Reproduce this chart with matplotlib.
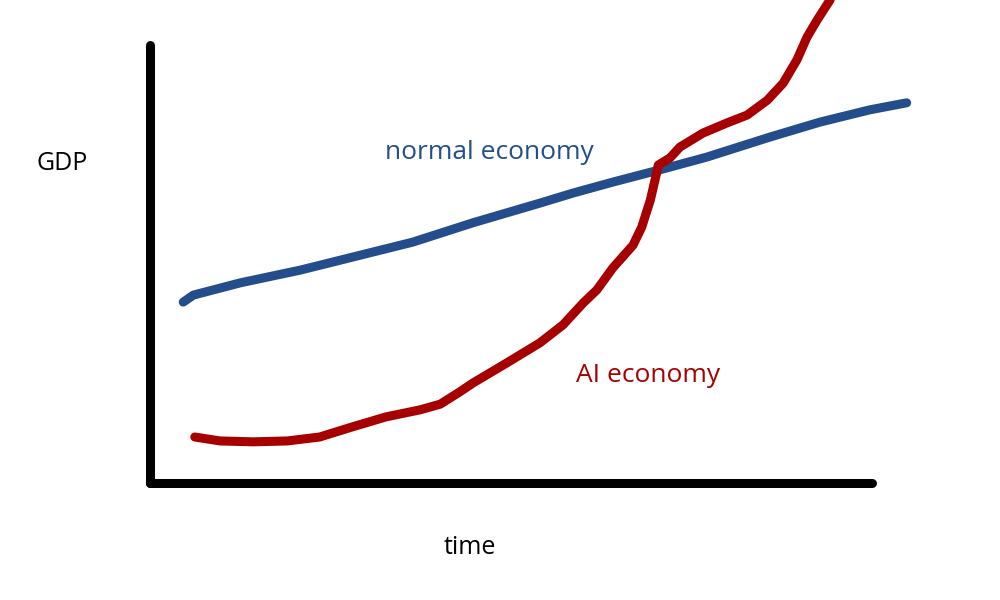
import matplotlib.pyplot as plt

# hand drawn sketch (time 0-100, GDP 0-100)
normal_time = [4.6, 6.0, 12.5, 20.8, 36.4, 44.7, 54.0, 58.6, 64.1, 70.6, 77.1, 85.9, 92.8, 99.7, 104.8]
normal_gdp = [41.3, 42.9, 45.7, 48.6, 55.0, 59.4, 63.9, 66.2, 68.7, 71.5, 74.4, 79.0, 82.4, 85.2, 86.8]

ai_time = [6.2, 9.7, 14.3, 19.0, 23.5, 28.0, 32.7, 37.4, 40.2, 42.9, 44.7, 49.4, 54.0, 57.2,
           60.0, 61.9, 64.1, 66.9, 68.1, 69.3, 70.2, 70.4, 72.0, 73.4, 76.6, 79.9, 82.7,
           85.5, 87.7, 89.6, 91.0, 92.4, 94.2]
ai_gdp = [10.5, 9.6, 9.4, 9.6, 10.5, 12.8, 15.1, 16.7, 18.0, 20.8, 22.8, 27.4, 32.0, 36.1,
          41.1, 44.1, 49.1, 54.3, 58.4, 64.6, 71.0, 72.6, 74.2, 76.7, 79.9, 82.2, 84.0,
          87.4, 91.3, 96.6, 101.8, 105.7, 110.3]

blue = '#234e8b'
red = '#a60000'

plt.rcParams['font.family'] = ['Open Sans', 'DejaVu Sans']

fig = plt.figure(figsize=(10, 6), dpi=100)
ax = fig.add_axes([0.15, 1 - 483 / 600, 0.722, 438 / 600])

ax.plot(normal_time, normal_gdp, color=blue, lw=6.5, solid_capstyle='round',
        solid_joinstyle='round', clip_on=False)
ax.plot(ai_time, ai_gdp, color=red, lw=6.5, solid_capstyle='round',
        solid_joinstyle='round', clip_on=False)

ax.set_xlim(0, 100)
ax.set_ylim(0, 100)
for side in ['top', 'right']:
    ax.spines[side].set_visible(False)
for side in ['left', 'bottom']:
    ax.spines[side].set_linewidth(6.5)
    ax.spines[side].set_color('black')
    ax.spines[side].set_capstyle('round')
ax.set_xticks([])
ax.set_yticks([])

fig.text(0.062, 1 - 163 / 600, 'GDP', fontsize=18, ha='center', va='center')
fig.text(0.470, 1 - 548 / 600, 'time', fontsize=18, ha='center', va='center')
fig.text(0.489, 1 - 152 / 600, 'normal economy', fontsize=19, color=blue, ha='center', va='center')
fig.text(0.648, 1 - 376 / 600, 'AI economy', fontsize=19, color=red, ha='center', va='center')

fig.savefig('out.png', dpi=100)
